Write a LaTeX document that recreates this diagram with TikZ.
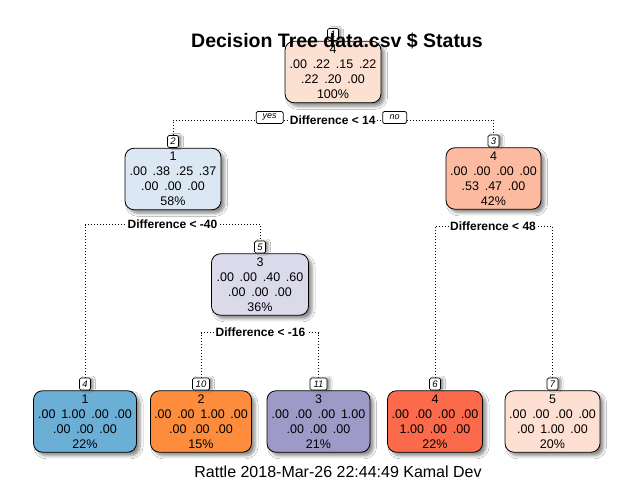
\documentclass[tikz,border=0pt]{standalone}
\usepackage{fontspec}
\setmainfont{Liberation Sans}
\usetikzlibrary{shadows.blur}
\pgfdeclarelayer{bg}
\pgfsetlayers{bg,main}
\definecolor{cRoot}{RGB}{252,224,210}
\definecolor{cTwo}{RGB}{220,231,244}
\definecolor{cThree}{RGB}{252,187,161}
\definecolor{cFive}{RGB}{218,218,235}
\definecolor{cLa}{RGB}{107,174,214}
\definecolor{cLb}{RGB}{253,141,60}
\definecolor{cLc}{RGB}{158,154,200}
\definecolor{cLd}{RGB}{251,106,74}
\definecolor{cLe}{RGB}{254,224,210}
\newcommand{\gp}{\hspace{.46em}}
\begin{document}
\begin{tikzpicture}[x=1pt,y=-1pt,
  box/.style={draw=black, line width=0.8pt, rounded corners=9pt,
    minimum height=61.5pt, inner sep=0pt, align=center, text=black,
    font=\fontsize{12.5}{15}\selectfont,
    blur shadow={shadow xshift=3.5pt, shadow yshift=-3.5pt, shadow blur radius=3pt, shadow opacity=45}},
  tag/.style={draw=black, fill=white, line width=0.7pt, rounded corners=1.5pt,
    inner sep=0pt, minimum width=11pt, minimum height=12pt, anchor=south,
    font=\fontsize{9.5}{10}\selectfont\itshape,
    blur shadow={shadow xshift=3pt, shadow yshift=0pt, shadow blur radius=2pt, shadow opacity=40}},
  split/.style={fill=white, inner sep=1.5pt, font=\fontsize{12}{14}\selectfont\bfseries},
  yn/.style={draw=black, fill=white, line width=0.7pt, rounded corners=1.5pt, inner sep=0pt,
    minimum height=12pt, font=\fontsize{9}{10}\selectfont\itshape},
  dotline/.style={line width=0.8pt, dash pattern=on 0.8pt off 2.2pt}]
\useasboundingbox (0,0) rectangle (634,484);

% boxes
\node[box, fill=cRoot, minimum width=96pt] (n1) at (333,72) {4\\.00\gp.22\gp.15\gp.22\\.22\gp.20\gp.00\\100\%};
\node[box, fill=cTwo, minimum width=96pt] (n2) at (173,179) {1\\.00\gp.38\gp.25\gp.37\\.00\gp.00\gp.00\\58\%};
\node[box, fill=cThree, minimum width=95pt] (n3) at (493.5,178.5) {4\\.00\gp.00\gp.00\gp.00\\.53\gp.47\gp.00\\42\%};
\node[box, fill=cFive, minimum width=97pt] (n5) at (260,284.5) {3\\.00\gp.00\gp.40\gp.60\\.00\gp.00\gp.00\\36\%};
\node[box, fill=cLa, minimum width=103pt] (n4) at (85,421.5) {1\\.00\gp1.00\gp.00\gp.00\\.00\gp.00\gp.00\\22\%};
\node[box, fill=cLb, minimum width=101pt] (n10) at (201,421.5) {2\\.00\gp.00\gp1.00\gp.00\\.00\gp.00\gp.00\\15\%};
\node[box, fill=cLc, minimum width=103pt] (n11) at (318.5,421.5) {3\\.00\gp.00\gp.00\gp1.00\\.00\gp.00\gp.00\\21\%};
\node[box, fill=cLd, minimum width=95pt] (n6) at (435,421.5) {4\\.00\gp.00\gp.00\gp.00\\1.00\gp.00\gp.00\\22\%};
\node[box, fill=cLe, minimum width=95pt] (n7) at (552.5,421.5) {5\\.00\gp.00\gp.00\gp.00\\.00\gp1.00\gp.00\\20\%};

% number tags
\node[tag] (t1) at (n1.north) {1};
\node[tag] (t2) at (n2.north) {2};
\node[tag] (t3) at (n3.north) {3};
\node[tag] (t5) at (n5.north) {5};
\node[tag] (t4) at (n4.north) {4};
\node[tag, minimum width=17pt] (t10) at (n10.north) {10};
\node[tag, minimum width=17pt] (t11) at (n11.north) {11};
\node[tag] (t6) at (n6.north) {6};
\node[tag] (t7) at (n7.north) {7};

% split labels
\node[split] (s1) at (332.7,120) {Difference < 14};
\node[yn, minimum width=27pt] (yes) at (269.7,117.5) {yes};
\node[yn, minimum width=24pt] (no) at (394.7,117.5) {no};
\node[split] (s2) at (172.5,224.5) {Difference < -40};
\node[split] (s3) at (493,226) {Difference < 48};
\node[split] (s5) at (260.5,332.5) {Difference < -16};

% connectors
\begin{pgfonlayer}{bg}
\fill[white] (0,0) rectangle (634,484);
\draw[dotline] (t2.north) |- (s1.center) -| (t3.north);
\draw[dotline] (t4.north) |- (s2.center) -| (t5.north);
\draw[dotline] (t6.north) |- (s3.center) -| (t7.north);
\draw[dotline] (t10.north) |- (s5.center) -| (t11.north);
\end{pgfonlayer}

% title and footer
\node[anchor=base, inner sep=0pt, font=\fontsize{19.5}{22}\selectfont\bfseries] (title) at (337,47.3) {Decision Tree data.csv \$ Status};
\node[anchor=base, inner sep=0pt, font=\fontsize{16}{18}\selectfont] (foot) at (338,477) {Rattle 2018-Mar-26 22:44:49 Kamal Dev};
\end{tikzpicture}
\end{document}
